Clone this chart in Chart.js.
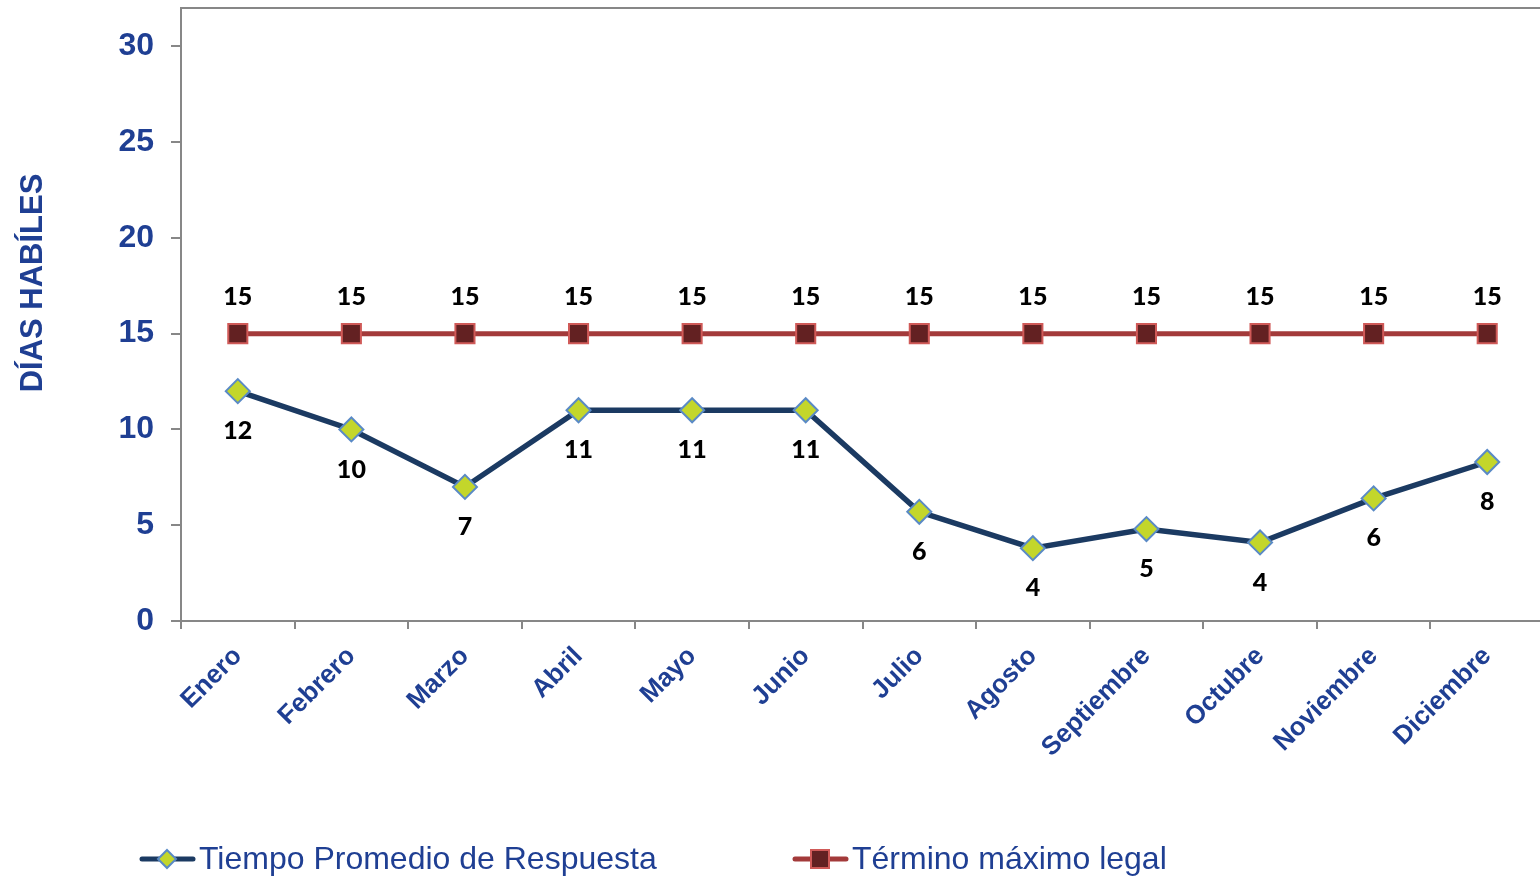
<!DOCTYPE html>
<html>
<head>
<meta charset="utf-8">
<script src="https://cdn.jsdelivr.net/npm/chart.js@4"></script>
<style>
  html, body { margin: 0; padding: 0; background: #fff; overflow: hidden; }
  #wrap { width: 1544px; height: 877px; position: relative; }
</style>
</head>
<body>
<div id="wrap"><canvas id="c"></canvas></div>
<script>
const months = ['Enero', 'Febrero', 'Marzo', 'Abril', 'Mayo', 'Junio', 'Julio', 'Agosto', 'Septiembre', 'Octubre', 'Noviembre', 'Diciembre'];
const tiempoPromedio = [12.0, 10.0, 7.0, 11.0, 11.0, 11.0, 5.7, 3.8, 4.8, 4.1, 6.4, 8.3];
const terminoMaximo = [15, 15, 15, 15, 15, 15, 15, 15, 15, 15, 15, 15];
const seriesNames = ['Tiempo Promedio de Respuesta', 'Término máximo legal'];
const yTitle = 'DÍAS HABÍLES';

const BLUE_TEXT = '#1F3F93';
const AXIS = '#878787';

const labelPlugin = {
  id: 'valueLabels',
  afterDatasetsDraw(chart) {
    const ctx = chart.ctx;
    ctx.save();
    ctx.font = '900 25px Lato, "Open Sans", sans-serif';
    ctx.fillStyle = '#000';
    ctx.textAlign = 'center';
    ctx.textBaseline = 'middle';
    chart.data.datasets.forEach((ds, i) => {
      const meta = chart.getDatasetMeta(i);
      meta.data.forEach((pt, j) => {
        const v = Math.round(ds.data[j]);
        const y = i === 0 ? pt.y + 40 : pt.y - 37;
        ctx.fillText(String(v), pt.x, y);
      });
    });
    ctx.restore();
  }
};

const framePlugin = {
  id: 'frameTop',
  afterDraw(chart) {
    const a = chart.chartArea;
    const ctx = chart.ctx;
    ctx.save();
    ctx.strokeStyle = AXIS;
    ctx.lineWidth = 2;
    ctx.beginPath();
    ctx.moveTo(a.left - 1, a.top);
    ctx.lineTo(a.right, a.top);
    ctx.stroke();
    // y axis title
    ctx.fillStyle = BLUE_TEXT;
    ctx.font = 'bold 31px "Liberation Sans", Arial, sans-serif';
    ctx.textAlign = 'center';
    ctx.textBaseline = 'middle';
    ctx.translate(33, 283);
    ctx.rotate(-Math.PI / 2);
    ctx.fillText(yTitle, 0, 0);
    ctx.restore();
  }
};

const legendPlugin = {
  id: 'customLegend',
  afterDraw(chart) {
    const ctx = chart.ctx;
    const items = [{ x: 140 }, { x: 793 }];
    const cy = 859;
    ctx.save();
    chart.data.datasets.forEach((ds, i) => {
      const x0 = items[i].x;
      ctx.strokeStyle = ds.borderColor;
      ctx.lineWidth = 5;
      ctx.lineCap = 'round';
      ctx.beginPath();
      ctx.moveTo(x0 + 2, cy);
      ctx.lineTo(x0 + 53, cy);
      ctx.stroke();
      const cx = x0 + 27;
      ctx.fillStyle = ds.pointBackgroundColor;
      ctx.strokeStyle = ds.pointBorderColor;
      ctx.lineWidth = 2;
      ctx.beginPath();
      if (ds.pointStyle === 'rectRot') {
        ctx.moveTo(cx, cy - 9); ctx.lineTo(cx + 9, cy); ctx.lineTo(cx, cy + 9); ctx.lineTo(cx - 9, cy); ctx.closePath();
      } else {
        ctx.rect(cx - 9, cy - 9, 18, 18);
      }
      ctx.fill();
      ctx.stroke();
      ctx.fillStyle = BLUE_TEXT;
      ctx.font = '32px "Liberation Sans", Arial, sans-serif';
      ctx.textAlign = 'left';
      ctx.textBaseline = 'middle';
      ctx.fillText(ds.label, x0 + 59, cy + 1);
    });
    ctx.restore();
  }
};

new Chart(document.getElementById('c'), {
  type: 'line',
  data: {
    labels: months,
    datasets: [
      {
        label: seriesNames[0],
        data: tiempoPromedio,
        borderColor: '#1B3A62',
        borderWidth: 5.5,
        pointStyle: 'rectRot',
        pointRadius: 12,
        pointBackgroundColor: '#C3D62B',
        pointBorderColor: '#5A8AC6',
        pointBorderWidth: 2,
        tension: 0
      },
      {
        label: seriesNames[1],
        data: terminoMaximo,
        borderColor: '#A33A3A',
        borderWidth: 5,
        pointStyle: 'rect',
        pointRadius: 13.5,
        pointBackgroundColor: '#632122',
        pointBorderColor: '#D05A58',
        pointBorderWidth: 2,
        tension: 0
      }
    ]
  },
  options: {
    responsive: true,
    maintainAspectRatio: false,
    animation: false,
    layout: { autoPadding: false, padding: { top: 8, left: 0, right: 0, bottom: 0 } },
    plugins: {
      legend: { display: false },
      tooltip: { enabled: false }
    },
    scales: {
      x: {
        offset: true,
        afterFit(scale) { scale.height = 256; scale.paddingLeft = 0; scale.paddingRight = 0; },
        grid: {
          offset: true,
          drawOnChartArea: false,
          drawTicks: true,
          tickLength: 8,
          color: AXIS,
          lineWidth: 2
        },
        border: { display: true, color: AXIS, width: 2 },
        ticks: {
          minRotation: 45,
          maxRotation: 45,
          padding: 12,
          color: BLUE_TEXT,
          font: { family: '"Liberation Sans", Arial, sans-serif', size: 26, weight: 'bold' }
        }
      },
      y: {
        min: 0,
        max: 32,
        afterFit(scale) { scale.width = 181; scale.paddingTop = 0; scale.paddingBottom = 0; },
        grid: {
          drawOnChartArea: false,
          drawTicks: true,
          tickLength: 10,
          color: AXIS,
          lineWidth: 2
        },
        border: { display: true, color: AXIS, width: 2 },
        ticks: {
          stepSize: 5,
          includeBounds: false,
          padding: 17,
          color: BLUE_TEXT,
          font: { family: '"Liberation Sans", Arial, sans-serif', size: 32, weight: 'bold' }
        },
        title: { display: false }
      }
    }
  },
  plugins: [labelPlugin, framePlugin, legendPlugin]
});
</script>
</body>
</html>
